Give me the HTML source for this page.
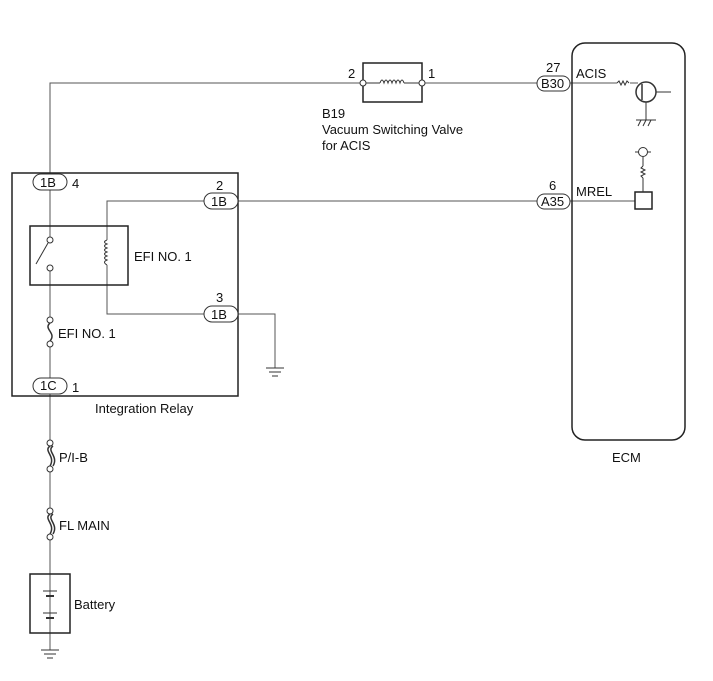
<!DOCTYPE html>
<html><head><meta charset="utf-8"><style>
html,body{margin:0;padding:0;background:#fff}
svg{display:block}
text{font-family:"Liberation Sans",Arial,sans-serif;font-size:13px;fill:#111}
</style></head><body>
<svg width="713" height="681" viewBox="0 0 713 681" xmlns="http://www.w3.org/2000/svg">
<g stroke="#555" stroke-width="1" fill="none">
<polyline points="50,190 50,83 363,83"/>
<line x1="422" y1="83" x2="537" y2="83"/>
<line x1="570" y1="83" x2="617" y2="83"/>
<line x1="630" y1="83" x2="638" y2="83"/>
<line x1="50" y1="190" x2="50" y2="240"/>
<line x1="50" y1="268" x2="50" y2="320"/>
<line x1="50" y1="344" x2="50" y2="378"/>
<line x1="50" y1="393" x2="50" y2="443"/>
<line x1="50" y1="469" x2="50" y2="511"/>
<line x1="50" y1="537" x2="50" y2="650"/>
<polyline points="204,201 107,201 107,240"/>
<polyline points="107,265 107,314 204,314"/>
<polyline points="238,314 275,314 275,368"/>
<line x1="238" y1="201" x2="537" y2="201"/>
<line x1="570" y1="201" x2="635" y2="201"/>
</g>
<g stroke="#222" stroke-width="1.5" fill="none">
<rect x="363" y="63" width="59" height="39"/>
<rect x="572" y="43" width="113" height="397" rx="13"/>
<rect x="12" y="173" width="226" height="223"/>
<rect x="30" y="226" width="98" height="59"/>
<rect x="30" y="574" width="40" height="59"/>
<rect x="635" y="192" width="17" height="17"/>
</g>
<g stroke="#333" stroke-width="1" fill="#fff">
<line x1="363" y1="83" x2="380" y2="83"/>
<line x1="404" y1="83" x2="422" y2="83"/>
<path d="M380,83 q2,-6 4,0 q2,-6 4,0 q2,-6 4,0 q2,-6 4,0 q2,-6 4,0 q2,-6 4,0" fill="none"/>
<circle cx="363" cy="83" r="3"/><circle cx="422" cy="83" r="3"/>
<rect x="537" y="76" width="33" height="15" rx="7.5"/>
<rect x="537" y="194" width="33" height="15" rx="7.5"/>
<rect x="33" y="174" width="34" height="16" rx="8"/>
<rect x="204" y="193" width="34" height="16" rx="8"/>
<rect x="204" y="306" width="34" height="16" rx="8"/>
<rect x="33" y="378" width="34" height="16" rx="8"/>
<circle cx="50" cy="240" r="3"/><circle cx="50" cy="268" r="3"/>
<line x1="36" y1="264" x2="48" y2="243"/>
<path d="M107,240 q-5,2 0,4 q-5,2 0,4 q-5,2 0,4 q-5,2 0,4 q-5,2 0,4 q-5,2 0,5" fill="none"/>
<circle cx="50" cy="320" r="3"/><circle cx="50" cy="344" r="3"/>
<path d="M50,323 c-7,6 7,10 0,18" fill="none" stroke-width="1.5"/>
<path d="M50,446 c-7,5 6,10 0,20 M53,446 c-7,5 6,10 0,20" fill="none" stroke-width="1.5"/>
<circle cx="50" cy="443" r="3"/><circle cx="50" cy="469" r="3"/>
<path d="M50,514 c-7,5 6,10 0,20 M53,514 c-7,5 6,10 0,20" fill="none" stroke-width="1.5"/>
<circle cx="50" cy="511" r="3"/><circle cx="50" cy="537" r="3"/>
<line x1="43" y1="591" x2="57" y2="591"/><line x1="46" y1="596" x2="54" y2="596" stroke-width="2"/>
<line x1="43" y1="613" x2="57" y2="613"/><line x1="46" y1="618" x2="54" y2="618" stroke-width="2"/>
<line x1="41" y1="650" x2="59" y2="650"/><line x1="44" y1="654" x2="56" y2="654"/><line x1="47" y1="658" x2="53" y2="658"/>
<line x1="266" y1="368" x2="284" y2="368"/><line x1="269" y1="372" x2="281" y2="372"/><line x1="272" y1="376" x2="278" y2="376"/>
<path d="M617,83 l2,-2 l2,4 l2,-4 l2,4 l2,-4 l2,2" fill="none"/>
<circle cx="646" cy="92" r="10" stroke-width="1.5"/>
<line x1="642" y1="84" x2="642" y2="100" stroke-width="1.5"/>
<line x1="656" y1="92" x2="671" y2="92"/>
<line x1="646" y1="102" x2="646" y2="120"/>
<line x1="636" y1="120" x2="656" y2="120"/>
<path d="M638,126 l3,-6 M643,126 l3,-6 M648,126 l3,-6" fill="none"/>
<line x1="635" y1="152" x2="651" y2="152"/>
<circle cx="643" cy="152" r="4.5"/>
<line x1="643" y1="157" x2="643" y2="166"/>
<path d="M643,166 l-2,2 l4,2 l-4,2 l4,2 l-4,2 l2,2" fill="none"/>
<line x1="643" y1="178" x2="643" y2="192"/>
</g>
<text x="348" y="78">2</text>
<text x="428" y="78">1</text>
<text x="322" y="118">B19</text>
<text x="322" y="134">Vacuum Switching Valve</text>
<text x="322" y="150">for ACIS</text>
<text x="546" y="72">27</text>
<text x="576" y="78">ACIS</text>
<text x="541" y="88">B30</text>
<text x="549" y="190">6</text>
<text x="576" y="196">MREL</text>
<text x="541" y="206">A35</text>
<text x="40" y="187">1B</text>
<text x="72" y="188">4</text>
<text x="216" y="190">2</text>
<text x="211" y="206">1B</text>
<text x="216" y="302">3</text>
<text x="211" y="319">1B</text>
<text x="134" y="261">EFI NO. 1</text>
<text x="58" y="338">EFI NO. 1</text>
<text x="40" y="390">1C</text>
<text x="72" y="392">1</text>
<text x="95" y="413">Integration Relay</text>
<text x="59" y="462">P/I-B</text>
<text x="59" y="530">FL MAIN</text>
<text x="74" y="609">Battery</text>
<text x="612" y="462">ECM</text>
</svg>
</body></html>
